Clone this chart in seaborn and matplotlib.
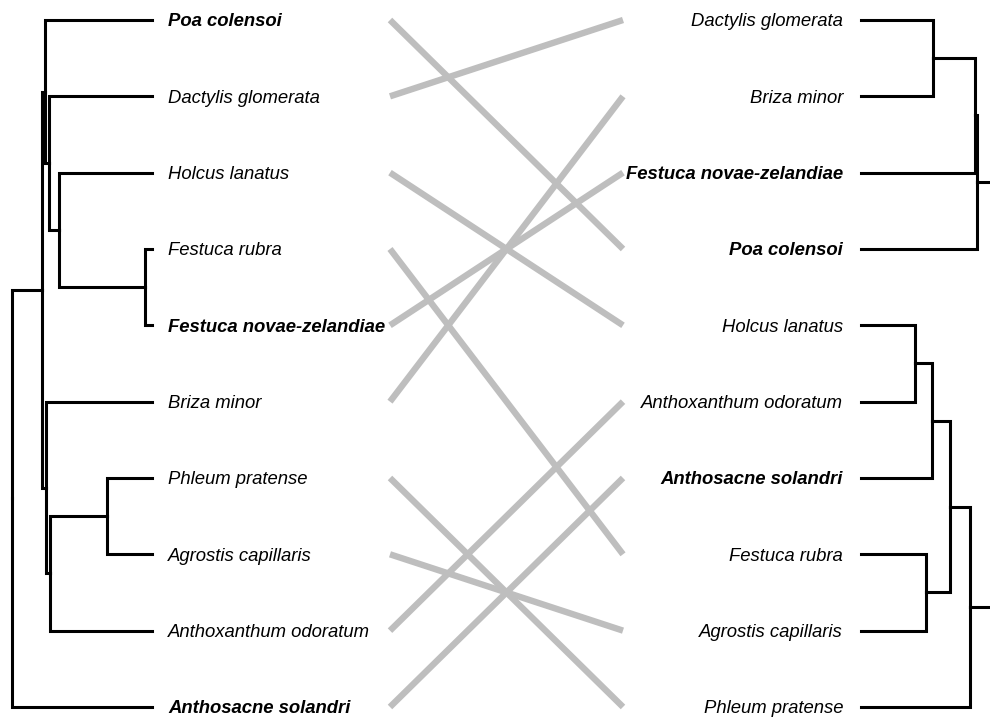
import pandas as pd
import matplotlib.pyplot as plt
import seaborn as sns

# taxa in the order they appear top-to-bottom on each side
left_leaves = ["Poa colensoi", "Dactylis glomerata", "Holcus lanatus", "Festuca rubra",
               "Festuca novae-zelandiae", "Briza minor", "Phleum pratense",
               "Agrostis capillaris", "Anthoxanthum odoratum", "Anthosacne solandri"]
right_leaves = ["Dactylis glomerata", "Briza minor", "Festuca novae-zelandiae", "Poa colensoi",
                "Holcus lanatus", "Anthoxanthum odoratum", "Anthosacne solandri",
                "Festuca rubra", "Agrostis capillaris", "Phleum pratense"]
bold_taxa = ["Poa colensoi", "Festuca novae-zelandiae", "Anthosacne solandri"]

# trees as (node depth from root, [children]); leaves sit at depth leaf_depth
left_tree = (0, [(30, [(33, ["Poa colensoi",
                             (37, ["Dactylis glomerata",
                                   (47, ["Holcus lanatus",
                                         (133, ["Festuca rubra", "Festuca novae-zelandiae"])])])]),
                       (33.5, ["Briza minor",
                               (38, [(95, ["Phleum pratense", "Agrostis capillaris"]),
                                     "Anthoxanthum odoratum"])])]),
                 "Anthosacne solandri"])
right_tree = (0, [(23, [(25, [(67, ["Dactylis glomerata", "Briza minor"]),
                              "Festuca novae-zelandiae"]),
                        "Poa colensoi"]),
                  (30, [(50, [(68, [(85, ["Holcus lanatus", "Anthoxanthum odoratum"]),
                                    "Anthosacne solandri"]),
                              (74, ["Festuca rubra", "Agrostis capillaris"])]),
                        "Phleum pratense"])])
left_leaf_depth = 140
right_leaf_depth = 139

# %%
# layout (pixel space)
Y0, DY = 20, 76.33
LEFT_ROOT_X, RIGHT_ROOT_X = 12, 1000
LINK_X0, LINK_X1 = 390, 623


def tree_segments(tree, order, leaf_depth, to_x, side):
    rows = []
    ypos = {name: Y0 + i * DY for i, name in enumerate(order)}

    def walk(node):
        if isinstance(node, str):
            return to_x(leaf_depth), ypos[node]
        depth, kids = node
        nx = to_x(depth)
        pts = [walk(k) for k in kids]
        ny = (pts[0][1] + pts[-1][1]) / 2
        for cx, cy in pts:
            seg = f"{side}{len(rows)}"
            for px, py in [(nx, ny), (nx, cy), (cx, cy)]:
                rows.append({"seg": seg, "x": px, "y": py})
        return nx, ny

    walk(tree)
    return pd.DataFrame(rows)


left_df = tree_segments(left_tree, left_leaves, left_leaf_depth, lambda d: LEFT_ROOT_X + d, "L")
right_df = tree_segments(right_tree, right_leaves, right_leaf_depth, lambda d: RIGHT_ROOT_X - d, "R")
trees = pd.concat([left_df, right_df], ignore_index=True)

links = []
for name in left_leaves:
    links.append({"taxon": name, "x": LINK_X0, "y": Y0 + left_leaves.index(name) * DY})
    links.append({"taxon": name, "x": LINK_X1, "y": Y0 + right_leaves.index(name) * DY})
links = pd.DataFrame(links)

# %%
sns.set_style("white")
plt.rcParams['font.family'] = ['Liberation Sans', 'DejaVu Sans']

fig = plt.figure(figsize=(9.9, 7.18), dpi=100)
ax = fig.add_axes([0, 0, 1, 1])

sns.lineplot(data=links, x="x", y="y", units="taxon", estimator=None, sort=False,
             color="#bebebe", lw=4.6, ax=ax, legend=False, solid_capstyle="butt")
sns.lineplot(data=trees, x="x", y="y", units="seg", estimator=None, sort=False,
             color="black", lw=2.2, ax=ax, legend=False,
             solid_capstyle="projecting", solid_joinstyle="miter")

for i, name in enumerate(left_leaves):
    ax.text(168, Y0 + i * DY + 2, name, ha="left", va="center", fontsize=13.3, style="italic",
            color="black", fontweight="bold" if name in bold_taxa else "normal")
for i, name in enumerate(right_leaves):
    ax.text(843, Y0 + i * DY + 2, name, ha="right", va="center", fontsize=13.3, style="italic",
            color="black", fontweight="bold" if name in bold_taxa else "normal")

ax.set_xlim(0, 990)
ax.set_ylim(718, 0)
ax.axis("off")
fig.savefig("out.png", dpi=100)
